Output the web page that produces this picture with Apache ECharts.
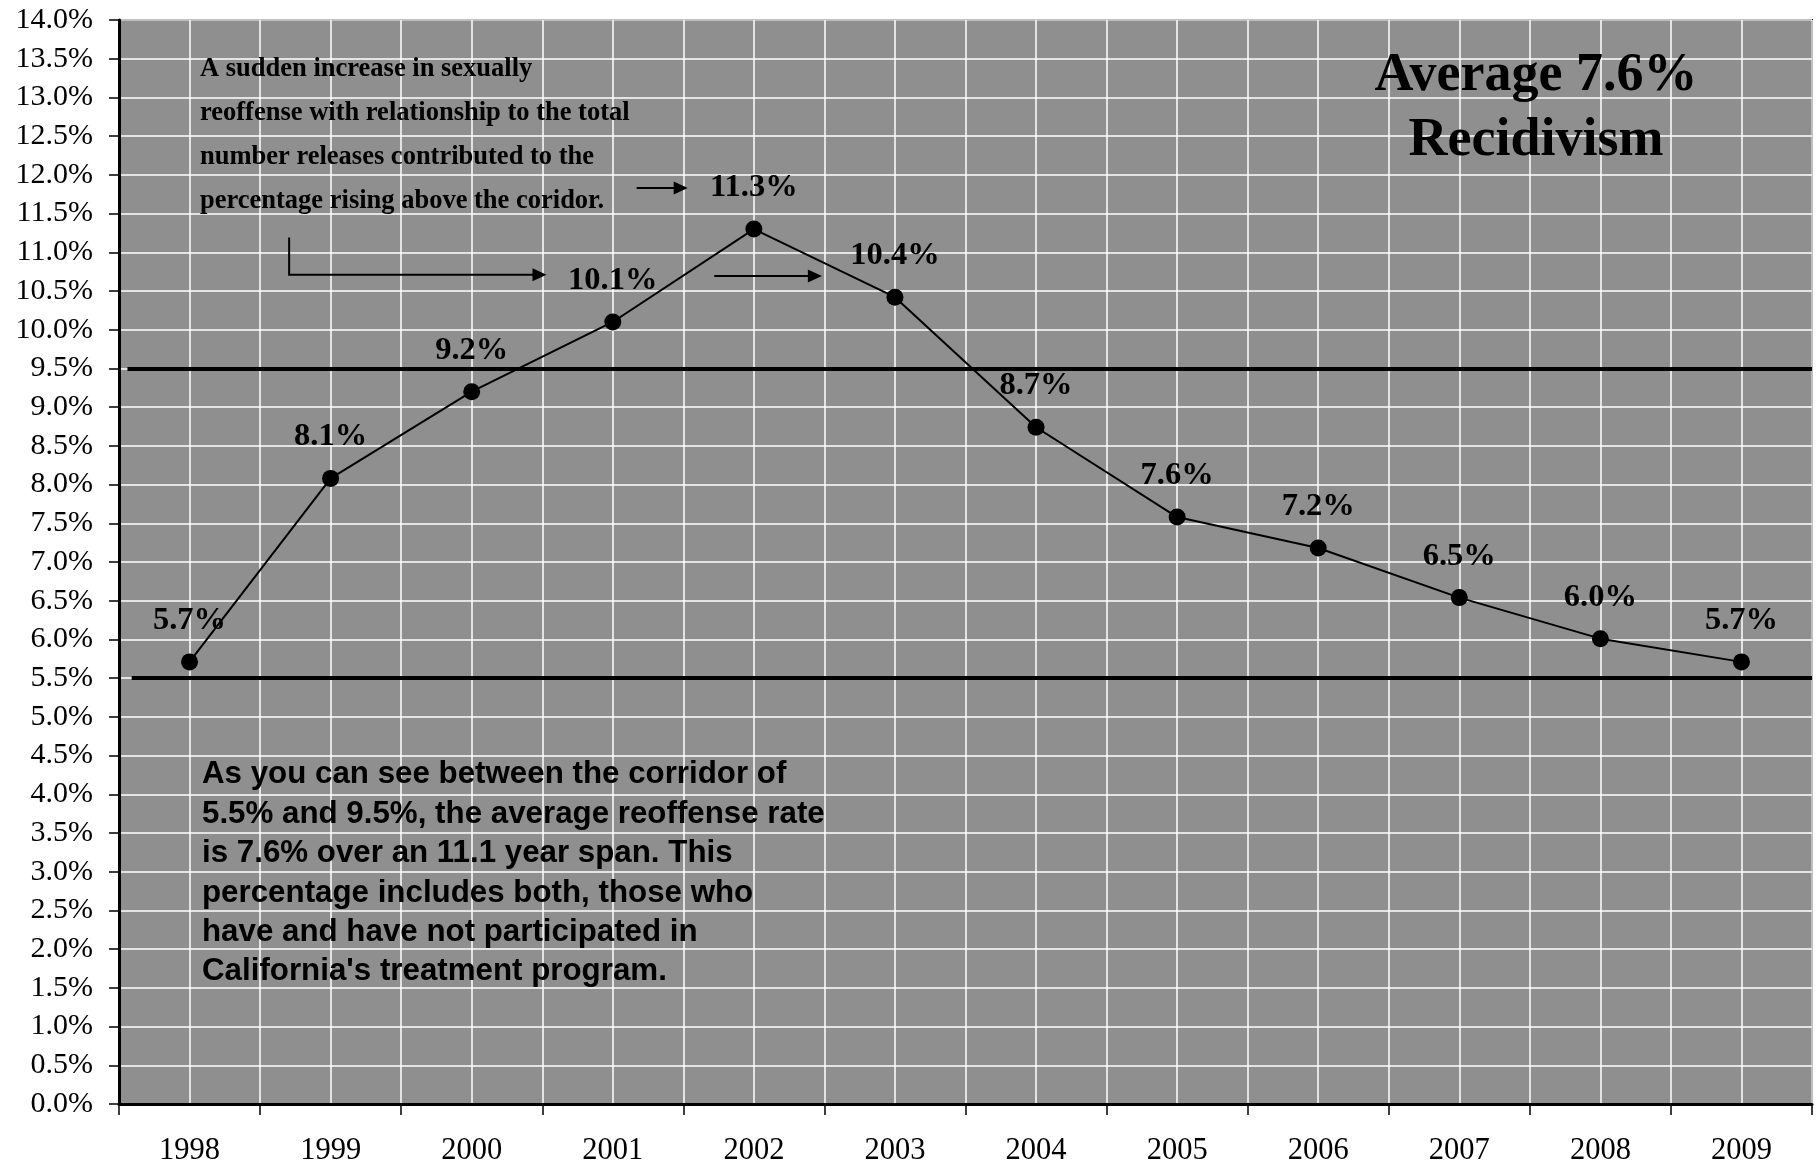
<!DOCTYPE html>
<html><head><meta charset="utf-8">
<script src="https://cdn.jsdelivr.net/npm/echarts@6/dist/echarts.min.js"></script>
<style>html,body{margin:0;padding:0;background:#fff}#c{width:1816px;height:1168px}</style>
</head><body><div id="c"></div>
<script>
const years = ['1998','1999','2000','2001','2002','2003','2004','2005','2006','2007','2008','2009'];
const rates = [5.71, 8.08, 9.2, 10.1, 11.3, 10.42, 8.74, 7.58, 7.18, 6.54, 6.01, 5.71];
const corridorLow = 5.5;
const corridorHigh = 9.5;
const yMin = 0, yMax = 14, yStep = 0.5;
const noteTop = 'A sudden increase in sexually\nreoffense with relationship to the total\nnumber releases contributed to the\npercentage rising above the coridor.';
const noteAvg = 'Average 7.6%\nRecidivism';
const noteBottom = "As you can see between the corridor of\n5.5% and 9.5%, the average reoffense rate\nis 7.6% over an 11.1 year span. This\npercentage includes both, those who\nhave and have not participated in\nCalifornia's treatment program.";

const SERIF = '"Liberation Serif","Times New Roman",serif';
const SANS = '"Liberation Sans",Arial,sans-serif';

const chart = echarts.init(document.getElementById('c'));
chart.setOption({
  backgroundColor: '#ffffff',
  animation: false,
  grid: {left: 119, right: 4, top: 20, bottom: 64, show: true, backgroundColor: '#8f8f8f', borderColor: '#000', borderWidth: 2},
  xAxis: [{
    type: 'category', data: years, boundaryGap: true,
    axisLine: {show: true, lineStyle: {color: '#000', width: 3}},
    axisTick: {show: true, length: 11, lineStyle: {color: '#000', width: 1.5}},
    axisLabel: {color: '#000', fontFamily: SERIF, fontSize: 30.5, margin: 31},
    splitLine: {show: false}
  }, {
    type: 'value', min: 0, max: 12, interval: 0.5, position: 'bottom',
    axisLine: {show: false}, axisTick: {show: false}, axisLabel: {show: false},
    splitLine: {show: true, lineStyle: {color: '#ffffff', width: 1.5}}
  }],
  yAxis: {
    type: 'value', min: yMin, max: yMax, interval: yStep,
    axisLine: {show: true, lineStyle: {color: '#000', width: 3}},
    axisTick: {show: true, length: 10, lineStyle: {color: '#000', width: 1.5}},
    axisLabel: {color: '#000', fontFamily: SERIF, fontSize: 30, margin: 26, formatter: v => v.toFixed(1) + '%'},
    splitLine: {show: true, lineStyle: {color: '#ffffff', width: 1.5}}
  },
  series: [{
    type: 'line', data: rates, xAxisIndex: 0,
    symbol: 'circle', symbolSize: 17,
    lineStyle: {color: '#000', width: 2}, itemStyle: {color: '#000'},
    label: {show: true, position: 'top', distance: 16.5, color: '#000', fontFamily: SERIF, fontWeight: 'bold', fontSize: 32.5,
      formatter: p => p.value.toFixed(1) + '%'}
  }, {
    type: 'line', xAxisIndex: 1, data: [], symbol: 'none',
    markLine: {
      silent: true, symbol: ['none', 'none'], label: {show: false},
      lineStyle: {color: '#000', width: 4, type: 'solid'},
      data: [
        [{coord: [0.06, corridorHigh]}, {coord: [12, corridorHigh]}],
        [{coord: [0.09, corridorLow]}, {coord: [12, corridorLow]}]
      ]
    }
  }]
});

// annotation arrows in data space (x on 0..12 value axis, y in %)
const arrows = [
  {pts: [[1.206, 11.19], [1.206, 10.71], [3.03, 10.71]]},
  {pts: [[4.219, 10.695], [4.982, 10.695]]},
  {pts: [[3.669, 11.83], [4.031, 11.83]]}
];
const px = p => chart.convertToPixel({xAxisIndex: 1, yAxisIndex: 0}, p);
const elements = [];
arrows.forEach(a => {
  const pp = a.pts.map(px);
  const end = pp[pp.length - 1];
  const L = 14, W = 6.5;
  const shaft = pp.slice(0, -1).concat([[end[0] - L + 1, end[1]]]);
  elements.push({type: 'polyline', shape: {points: shaft}, style: {stroke: '#000', lineWidth: 2, fill: null}, z: 50});
  elements.push({type: 'polygon', shape: {points: [[end[0], end[1]], [end[0] - L, end[1] - W], [end[0] - L, end[1] + W]]}, style: {fill: '#000'}, z: 50});
});
elements.push({type: 'text', left: 200, top: 47, z: 60, style: {text: noteTop, font: 'bold 26.5px ' + SERIF, fill: '#000', lineHeight: 44}});
elements.push({type: 'text', x: 1536, y: 44, z: 60, style: {text: noteAvg, font: 'bold 54px ' + SERIF, fill: '#000', lineHeight: 65, align: 'center', verticalAlign: 'top'}});
elements.push({type: 'text', left: 202, top: 755, z: 60, style: {text: noteBottom, font: 'bold 31.3px ' + SANS, fill: '#000', lineHeight: 39.4}});
chart.setOption({graphic: {elements: elements}});
</script>
</body></html>
